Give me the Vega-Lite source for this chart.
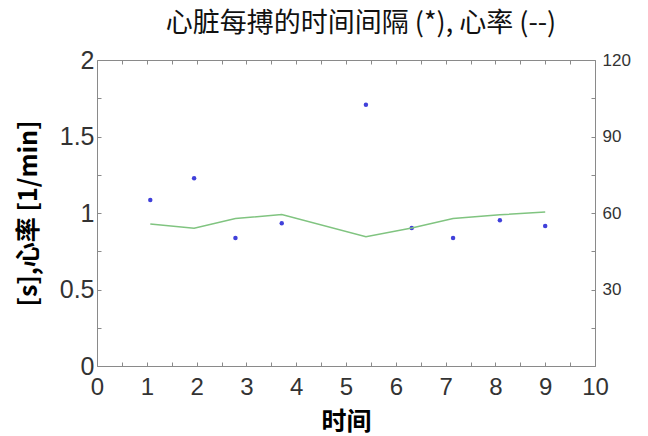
{
  "$schema": "https://vega.github.io/schema/vega-lite/v6.json",
  "width": 498,
  "height": 306,
  "autosize": "none",
  "padding": {"left": 97, "top": 60, "right": 53, "bottom": 70},
  "background": "white",
  "title": {
    "text": "心脏每搏的时间间隔 (*), 心率 (--)",
    "fontSize": 27,
    "fontWeight": "normal",
    "font": "Noto Sans CJK SC",
    "color": "#111111",
    "anchor": "middle",
    "dx": 15,
    "offset": 10
  },
  "config": {
    "view": {"stroke": "#8a8a8a", "strokeWidth": 1},
    "axis": {
      "grid": false,
      "domain": false,
      "tickColor": "#8a8a8a",
      "tickSize": -4,
      "labelFont": "Liberation Sans",
      "labelColor": "#333333"
    }
  },
  "data": {
    "values": [
      {"t": 1.07, "interval": 1.085, "hr": 55.7},
      {"t": 1.95, "interval": 1.227, "hr": 54.0},
      {"t": 2.78, "interval": 0.837, "hr": 57.8},
      {"t": 3.71, "interval": 0.933, "hr": 59.4},
      {"t": 5.40, "interval": 1.708, "hr": 50.7},
      {"t": 6.32, "interval": 0.902, "hr": 54.1},
      {"t": 7.15, "interval": 0.837, "hr": 57.8},
      {"t": 8.09, "interval": 0.952, "hr": 59.3},
      {"t": 9.00, "interval": 0.915, "hr": 60.4}
    ]
  },
  "layer": [
    {
      "mark": {"type": "point", "filled": true, "size": 20, "color": "#2b2bd6", "opacity": 0.9},
      "encoding": {
        "x": {
          "field": "t",
          "type": "quantitative",
          "scale": {"domain": [0, 10], "nice": false},
          "axis": {
            "orient": "bottom",
            "values": [0, 0.5, 1, 1.5, 2, 2.5, 3, 3.5, 4, 4.5, 5, 5.5, 6, 6.5, 7, 7.5, 8, 8.5, 9, 9.5, 10],
            "labelExpr": "datum.value % 1 == 0 ? format(datum.value, '~g') : ''",
            "labelFontSize": 24,
            "labelPadding": 13,
            "labelFlush": false,
            "labelOverlap": false,
            "title": "时间",
            "titleFont": "Noto Sans CJK SC",
            "titleFontSize": 25,
            "titleFontWeight": "bold",
            "titleColor": "#000000",
            "titlePadding": 10
          }
        },
        "y": {
          "field": "interval",
          "type": "quantitative",
          "scale": {"domain": [0, 2], "nice": false},
          "axis": {
            "orient": "left",
            "values": [0, 0.25, 0.5, 0.75, 1, 1.25, 1.5, 1.75, 2],
            "labelExpr": "datum.value % 0.5 == 0 ? format(datum.value, '~g') : ''",
            "labelFontSize": 25,
            "labelPadding": 7,
            "labelFlush": false,
            "labelOverlap": false,
            "title": "[s],心率 [1/min]",
            "titleFont": "Noto Sans CJK SC",
            "titleFontSize": 25,
            "titleFontWeight": "bold",
            "titleColor": "#000000",
            "titlePadding": 18
          }
        }
      }
    },
    {
      "mark": {"type": "line", "color": "#80c480", "strokeWidth": 1.5},
      "encoding": {
        "x": {
          "field": "t",
          "type": "quantitative",
          "scale": {"domain": [0, 10], "nice": false},
          "axis": {
            "orient": "top",
            "values": [0, 0.5, 1, 1.5, 2, 2.5, 3, 3.5, 4, 4.5, 5, 5.5, 6, 6.5, 7, 7.5, 8, 8.5, 9, 9.5, 10],
            "labels": false,
            "title": null
          }
        },
        "y": {
          "field": "hr",
          "type": "quantitative",
          "scale": {"domain": [0, 120], "nice": false},
          "axis": {
            "orient": "right",
            "values": [0, 15, 30, 45, 60, 75, 90, 105, 120],
            "labelExpr": "datum.value % 30 == 0 && datum.value > 0 ? format(datum.value, '~g') : ''",
            "labelFontSize": 17,
            "labelPadding": 11,
            "labelFlush": false,
            "labelOverlap": false,
            "title": null
          }
        }
      }
    }
  ],
  "resolve": {"scale": {"y": "independent"}, "axis": {"x": "independent"}}
}
